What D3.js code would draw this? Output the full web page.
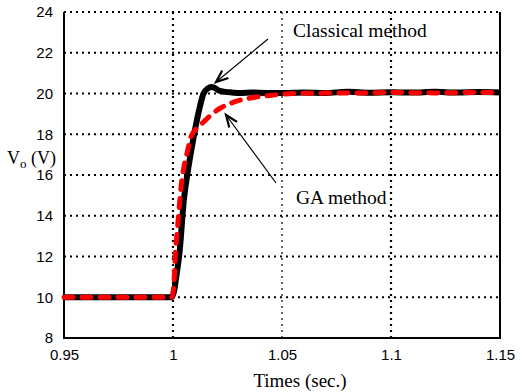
<!DOCTYPE html>
<html>
<head>
<meta charset="UTF-8">
<title></title>
<style>
body { margin: 0; background: #fff; }
</style>
</head>
<body>
<div id="chart"></div>
<script src="https://d3js.org/d3.v7.min.js"></script>
<script>
// data
var xTicks = [0.95, 1, 1.05, 1.1, 1.15];
var xTickLabels = ["0.95", "1", "1.05", "1.1", "1.15"];
var yTicks = [8, 10, 12, 14, 16, 18, 20, 22, 24];

var classicalT = [0.95, 0.9995, 1.0005, 1.0015, 1.003, 1.005, 1.0069, 1.0092, 1.012, 1.014, 1.016, 1.0175, 1.019, 1.021, 1.024, 1.027, 1.031, 1.036, 1.042, 1.05, 1.06, 1.07, 1.08, 1.09, 1.1, 1.11, 1.12, 1.13, 1.14, 1.15];
var classicalV = [10, 10, 10.3, 11, 12.2, 14.8, 16.25, 17.7, 19.2, 20.0, 20.25, 20.32, 20.28, 20.15, 20.08, 20.05, 20.02, 20.05, 20.03, 20.02, 20.05, 20.03, 20.08, 20.04, 20.06, 20.05, 20.08, 20.05, 20.07, 20.05];

var gaT = [0.95, 0.9995, 1.0005, 1.001, 1.002, 1.003, 1.004, 1.005, 1.0065, 1.0083, 1.011, 1.014, 1.018, 1.022, 1.026, 1.03, 1.034, 1.04, 1.046, 1.055, 1.07, 1.09, 1.1, 1.12, 1.14, 1.15];
var gaV = [10, 10, 10.8, 12, 13.3, 14.6, 15.7, 16.4, 17.1, 17.9, 18.3, 18.6, 19.0, 19.3, 19.5, 19.65, 19.75, 19.85, 19.92, 20.0, 20.02, 20.03, 20.05, 20.03, 20.05, 20.05];

var width = 522, height = 392;
var margin = { top: 12, right: 22, bottom: 54, left: 64 };

var svg = d3.select("#chart").append("svg")
  .attr("width", width)
  .attr("height", height)
  .style("background", "#fff");

var x = d3.scaleLinear().domain([0.95, 1.15]).range([margin.left, width - margin.right]);
var y = d3.scaleLinear().domain([8, 24]).range([height - margin.bottom, margin.top]);

// grid
var grid = svg.append("g");
grid.selectAll("line.h")
  .data(yTicks.filter(function(d) { return d > 8; }))
  .join("line")
  .attr("x1", x(0.95)).attr("x2", x(1.15))
  .attr("y1", function(d) { return y(d); })
  .attr("y2", function(d) { return y(d); })
  .attr("stroke", "#000")
  .attr("stroke-width", 2)
  .attr("stroke-dasharray", "2,4");

grid.selectAll("line.v")
  .data([1, 1.05, 1.1])
  .join("line")
  .attr("x1", function(d) { return x(d); })
  .attr("x2", function(d) { return x(d); })
  .attr("y1", y(24)).attr("y2", y(8))
  .attr("stroke", "#000")
  .attr("stroke-width", function(d) { return d === 1.05 ? 1.2 : 2.2; })
  .attr("stroke-dasharray", "2,4");

// frame
svg.append("path")
  .attr("d", "M" + x(0.95) + "," + y(24) + "V" + y(8) + "H" + x(1.15) + "V" + y(24))
  .attr("fill", "none")
  .attr("stroke", "#000")
  .attr("stroke-width", 2);

// axes
var xAxis = d3.axisBottom(x).tickValues(xTicks)
  .tickFormat(function(d, i) { return xTickLabels[i]; })
  .tickSize(0).tickPadding(11);
var gx = svg.append("g")
  .attr("transform", "translate(0," + y(8) + ")")
  .call(xAxis);
gx.select(".domain").remove();
gx.selectAll("text")
  .attr("font-family", "Liberation Sans, Arial, sans-serif")
  .attr("font-size", "15px")
  .attr("fill", "#000");

var yAxis = d3.axisLeft(y).tickValues(yTicks).tickSize(0).tickPadding(11);
var gy = svg.append("g")
  .attr("transform", "translate(" + x(0.95) + ",0)")
  .call(yAxis);
gy.select(".domain").remove();
gy.selectAll("text")
  .attr("font-family", "Liberation Sans, Arial, sans-serif")
  .attr("font-size", "15px")
  .attr("fill", "#000");

// lines
var line = d3.line()
  .x(function(d) { return x(d[0]); })
  .y(function(d) { return y(d[1]); })
  .curve(d3.curveMonotoneX);

var classical = classicalT.map(function(t, i) { return [t, classicalV[i]]; });
var ga = gaT.map(function(t, i) { return [t, gaV[i]]; });

svg.append("path")
  .datum(classical)
  .attr("d", line)
  .attr("fill", "none")
  .attr("stroke", "#000")
  .attr("stroke-width", 6)
  .attr("stroke-linejoin", "round");

svg.append("path")
  .datum(ga)
  .attr("d", line)
  .attr("fill", "none")
  .attr("stroke", "#ff0000")
  .attr("stroke-width", 5)
  .attr("stroke-linecap", "round")
  .attr("stroke-dasharray", "9,9");

// annotations
function arrow(x1, y1, x2, y2) {
  svg.append("line")
    .attr("x1", x1).attr("y1", y1).attr("x2", x2).attr("y2", y2)
    .attr("stroke", "#000").attr("stroke-width", 1.2);
  var a = Math.atan2(y2 - y1, x2 - x1), L = 13, s = 0.38;
  var p1 = [x2 - L * Math.cos(a - s), y2 - L * Math.sin(a - s)];
  var p2 = [x2 - L * Math.cos(a + s), y2 - L * Math.sin(a + s)];
  svg.append("path")
    .attr("d", "M" + p1 + "L" + x2 + "," + y2 + "L" + p2)
    .attr("fill", "none")
    .attr("stroke", "#000")
    .attr("stroke-width", 2.2);
}
arrow(268, 39, 216, 82);
arrow(276, 183, 226, 115);

svg.append("text")
  .attr("x", 293).attr("y", 37)
  .attr("font-family", "Liberation Serif, Times New Roman, serif")
  .attr("font-size", "19.5px")
  .text("Classical method");

svg.append("text")
  .attr("x", 296).attr("y", 204)
  .attr("font-family", "Liberation Serif, Times New Roman, serif")
  .attr("font-size", "19.5px")
  .text("GA method");

// axis titles
svg.append("text")
  .attr("x", 300).attr("y", 387)
  .attr("text-anchor", "middle")
  .attr("font-family", "Liberation Serif, Times New Roman, serif")
  .attr("font-size", "19px")
  .text("Times (sec.)");

var yl = svg.append("text")
  .attr("x", 7).attr("y", 164)
  .attr("font-family", "Liberation Serif, Times New Roman, serif")
  .attr("font-size", "18px");
yl.append("tspan").text("V");
yl.append("tspan").attr("font-size", "13px").attr("dy", 4).text("o");
yl.append("tspan").attr("dy", -4).text(" (V)");
</script>
</body>
</html>
